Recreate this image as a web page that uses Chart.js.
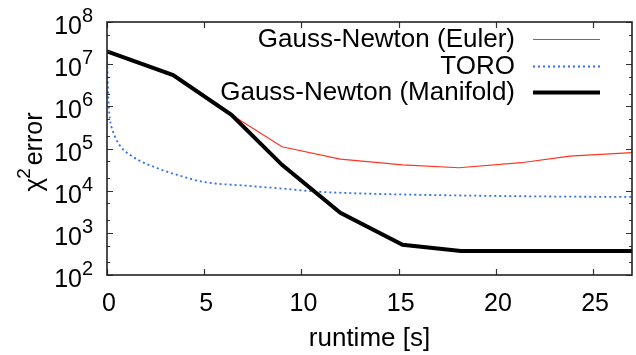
<!DOCTYPE html>
<html>
<head>
<meta charset="utf-8">
<script src="https://cdn.jsdelivr.net/npm/chart.js@4.4.1/dist/chart.umd.min.js"></script>
<style>
  html, body { margin: 0; padding: 0; background: #fff; }
  #wrap { width: 636px; height: 355px; }
</style>
</head>
<body>
<div id="wrap"><canvas id="chart" width="636" height="355"></canvas></div>
<script>
// runtime [s] and chi^2 error for each method
const eulerX = [0, 3.4, 6.4, 9.0, 12.0, 15.2, 18.1, 21.3, 23.8, 27];
const eulerY = [2e7, 5.5e6, 6.3e5, 1.1e5, 5.6e4, 4.1e4, 3.5e4, 4.6e4, 6.6e4, 8e4];

const toroX = [0, 0.03, 0.08, 0.15, 0.3, 0.65, 1.3, 2.6, 3.7, 5, 7.3, 9, 10.8, 13, 16.6, 20, 24, 27];
const toroY = [2e7, 5e6, 1.2e6, 5e5, 2.6e5, 1.2e5, 6.5e4, 3.4e4, 2.3e4, 1.6e4, 1.3e4, 1.12e4, 9.5e3, 8.6e3, 7.9e3, 7.5e3, 7.2e3, 7.1e3];

const manifoldX = [0, 3.4, 6.4, 9.0, 12.0, 15.2, 18.2, 27];
const manifoldY = [2e7, 5.5e6, 6.3e5, 4.1e4, 3.0e3, 5.2e2, 3.7e2, 3.7e2];

const seriesNames = ["Gauss-Newton (Euler)", "TORO", "Gauss-Newton (Manifold)"];

const xTicks = [0, 5, 10, 15, 20, 25];
const yTicks = [1e2, 1e3, 1e4, 1e5, 1e6, 1e7, 1e8];
const yMinorTicks = [2e2, 5e2, 2e3, 5e3, 2e4, 5e4, 2e5, 5e5, 2e6, 5e6, 2e7, 5e7];

const FONT = "'Liberation Sans', Arial, sans-serif";

function toPoints(xs, ys) {
    return xs.map((x, i) => ({ x: x, y: ys[i] }));
}

// gnuplot style frame: border box, inward ticks on every side, labels, legend
const gnuplotFrame = {
    id: "gnuplotFrame",
    afterDraw(chart) {
        const ctx = chart.ctx;
        const a = chart.chartArea;
        const xs = chart.scales.x;
        const ys = chart.scales.y;
        ctx.save();

        // ticks
        ctx.strokeStyle = "#333";
        ctx.lineWidth = 1.2;
        ctx.beginPath();
        xTicks.forEach(v => {
            const px = Math.round(xs.getPixelForValue(v)) + 0.5;
            ctx.moveTo(px, a.bottom); ctx.lineTo(px, a.bottom - 6);
            ctx.moveTo(px, a.top); ctx.lineTo(px, a.top + 6);
        });
        yTicks.forEach(v => {
            const py = Math.round(ys.getPixelForValue(v)) + 0.5;
            ctx.moveTo(a.left, py); ctx.lineTo(a.left + 6, py);
            ctx.moveTo(a.right, py); ctx.lineTo(a.right - 6, py);
        });
        yMinorTicks.forEach(v => {
            const py = Math.round(ys.getPixelForValue(v)) + 0.5;
            ctx.moveTo(a.left, py); ctx.lineTo(a.left + 3, py);
            ctx.moveTo(a.right, py); ctx.lineTo(a.right - 3, py);
        });
        ctx.stroke();

        // border
        ctx.strokeStyle = "#222";
        ctx.lineWidth = 1.6;
        ctx.strokeRect(a.left, a.top, a.right - a.left, a.bottom - a.top);

        ctx.fillStyle = "#000";

        // x tick labels
        ctx.font = "25px " + FONT;
        ctx.textAlign = "center";
        ctx.textBaseline = "alphabetic";
        xTicks.forEach(v => {
            ctx.fillText(String(v), xs.getPixelForValue(v) + 2, a.bottom + 36);
        });

        // y tick labels 10^n
        yTicks.forEach(v => {
            const py = ys.getPixelForValue(v);
            const exp = Math.round(Math.log10(v));
            ctx.font = "25px " + FONT;
            ctx.textAlign = "right";
            ctx.fillText("10", 82, py + 12);
            ctx.font = "20px " + FONT;
            ctx.textAlign = "left";
            ctx.fillText(String(exp), 82, py);
        });

        // x title
        ctx.font = "26px " + FONT;
        ctx.textAlign = "center";
        ctx.fillText("runtime [s]", (a.left + a.right) / 2, 346);

        // y title, rotated
        ctx.save();
        ctx.translate(42, 152);
        ctx.rotate(-Math.PI / 2);
        ctx.textAlign = "left";
        ctx.font = "26px " + FONT;
        const wChi = ctx.measureText("χ").width;
        ctx.font = "19px " + FONT;
        const wTwo = ctx.measureText("2").width;
        ctx.font = "25px " + FONT;
        const wErr = ctx.measureText("error").width;
        const total = wChi + wTwo + 2 + wErr;
        let cx = -total / 2;
        ctx.font = "26px " + FONT;
        ctx.fillText("χ", cx, 0);
        cx += wChi;
        ctx.font = "19px " + FONT;
        ctx.fillText("2", cx - 1, -12);
        cx += wTwo + 2;
        ctx.font = "25px " + FONT;
        ctx.fillText("error", cx, 0);
        ctx.restore();

        // legend: right aligned names, sample line on the right
        const rows = [39, 66, 92];
        chart.data.datasets.forEach((ds, i) => {
            ctx.font = "26px " + FONT;
            ctx.textAlign = "right";
            ctx.textBaseline = "middle";
            ctx.fillStyle = "#000";
            ctx.fillText(ds.label, 515, rows[i] + 1);
            ctx.beginPath();
            ctx.strokeStyle = ds.borderColor;
            ctx.lineWidth = ds.borderWidth;
            ctx.setLineDash(ds.borderDash || []);
            ctx.moveTo(533, rows[i] + 0.5);
            ctx.lineTo(600, rows[i] + 0.5);
            ctx.stroke();
            ctx.setLineDash([]);
        });

        ctx.restore();
    }
};

new Chart("chart", {
    type: "line",
    data: {
        datasets: [
            {
                label: seriesNames[0],
                data: toPoints(eulerX, eulerY),
                borderColor: "#ff3322",
                borderWidth: 1.2,
                pointRadius: 0,
                fill: false,
                tension: 0,
                order: 2
            },
            {
                label: seriesNames[1],
                data: toPoints(toroX, toroY),
                borderColor: "#2f6ff0",
                borderWidth: 1.8,
                borderDash: [2, 3],
                pointRadius: 0,
                fill: false,
                cubicInterpolationMode: "monotone",
                order: 1
            },
            {
                label: seriesNames[2],
                data: toPoints(manifoldX, manifoldY),
                borderColor: "#000",
                borderWidth: 4,
                pointRadius: 0,
                fill: false,
                tension: 0,
                order: 0
            }
        ]
    },
    options: {
        responsive: false,
        animation: false,
        events: [],
        layout: { padding: { left: 107, right: 4, top: 22, bottom: 80 } },
        plugins: {
            legend: { display: false },
            tooltip: { enabled: false }
        },
        scales: {
            x: {
                type: "linear",
                min: 0,
                max: 27,
                display: false
            },
            y: {
                type: "logarithmic",
                min: 1e2,
                max: 1e8,
                display: false
            }
        }
    },
    plugins: [gnuplotFrame]
});
</script>
</body>
</html>
